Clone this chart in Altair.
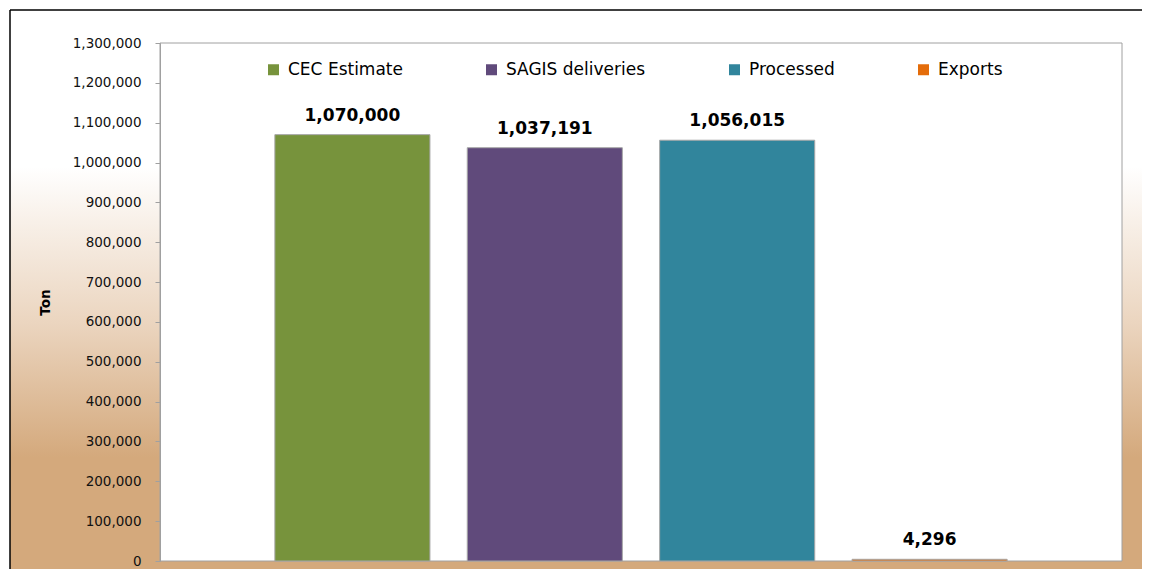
import altair as alt
import pandas as pd

series = ["CEC Estimate", "SAGIS deliveries", "Processed", "Exports"]
values = [1070000, 1037191, 1056015, 4296]
colors = ["#77933C", "#604A7B", "#31859C", "#E46C0A"]
y_ticks = list(range(0, 1300001, 100000))

W, H = 962, 518

df = pd.DataFrame({"series": series, "value": values})

x_enc = alt.X("series:N", sort=series, axis=None,
              scale=alt.Scale(paddingInner=0.194, paddingOuter=0.597))
y_enc = alt.Y("value:Q", title="Ton",
              scale=alt.Scale(domain=[0, 1300000], nice=False),
              axis=alt.Axis(values=y_ticks, format=",d", grid=False,
                            labelFont="DejaVu Sans", labelFontSize=13.5, labelColor="#111111",
                            tickColor="#A0A0A0", tickSize=5, domainColor="#A0A0A0",
                            labelPadding=14, titleFont="DejaVu Sans", titleFontSize=13.5,
                            titleFontWeight="bold", titleColor="#000000", titlePadding=20,
                            zindex=1))

frame_data = alt.Data(values=[{"k": 1}])

background = alt.Chart(frame_data).mark_rect(
    clip=False,
    fill=alt.Gradient(
        gradient="linear", x1=0, x2=0, y1=0, y2=1,
        stops=[
            alt.GradientStop(color="#FFFFFF", offset=0),
            alt.GradientStop(color="#FFFFFF", offset=0.28),
            alt.GradientStop(color="#EBD5BF", offset=0.56),
            alt.GradientStop(color="#D4A97C", offset=0.80),
            alt.GradientStop(color="#D4A97C", offset=1),
        ],
    ),
).encode(x=alt.value(-150), x2=alt.value(W + 20), y=alt.value(-33), y2=alt.value(H + 8))

left_line = alt.Chart(frame_data).mark_rule(clip=False, color="#000000", strokeWidth=1.5).encode(
    x=alt.value(-150), y=alt.value(-33), y2=alt.value(H + 8))
top_line = alt.Chart(frame_data).mark_rule(clip=False, color="#000000", strokeWidth=1.5).encode(
    x=alt.value(-150), x2=alt.value(W + 20), y=alt.value(-33))

plot_bg = alt.Chart(frame_data).mark_rect(
    fill="#FFFFFF", stroke="#A0A0A0", strokeWidth=1
).encode(x=alt.value(0), x2=alt.value(W), y=alt.value(0), y2=alt.value(H))

bars = alt.Chart(df).mark_bar(stroke="#A6A6A6", strokeWidth=1).encode(
    x=x_enc,
    y=y_enc,
    color=alt.Color("series:N", sort=series,
                    scale=alt.Scale(domain=series, range=colors),
                    legend=alt.Legend(title=None, orient="none", legendX=105, legendY=18,
                                      direction="horizontal", columns=4, columnPadding=80,
                                      symbolType="square", symbolSize=121, symbolStrokeWidth=0,
                                      labelOffset=6, labelFont="DejaVu Sans", labelFontSize=17,
                                      labelColor="#000000", padding=0, zindex=1,
                                      labelLimit=300)),
)

labels = alt.Chart(df).mark_text(
    font="DejaVu Sans", fontSize=17, fontWeight="bold", color="#000000",
    baseline="alphabetic", dy=-14,
).encode(x=x_enc, y=y_enc, text=alt.Text("value:Q", format=","))

chart = alt.layer(background, left_line, top_line, plot_bg, bars, labels).properties(
    width=W, height=H,
    autosize=alt.AutoSizeParams(type="none"),
    padding={"left": 152, "top": 35, "right": 20, "bottom": 8},
    background="#FFFFFF",
).configure_view(stroke=None)

chart.save("out.html", embed_options={"renderer": "svg", "actions": False})
